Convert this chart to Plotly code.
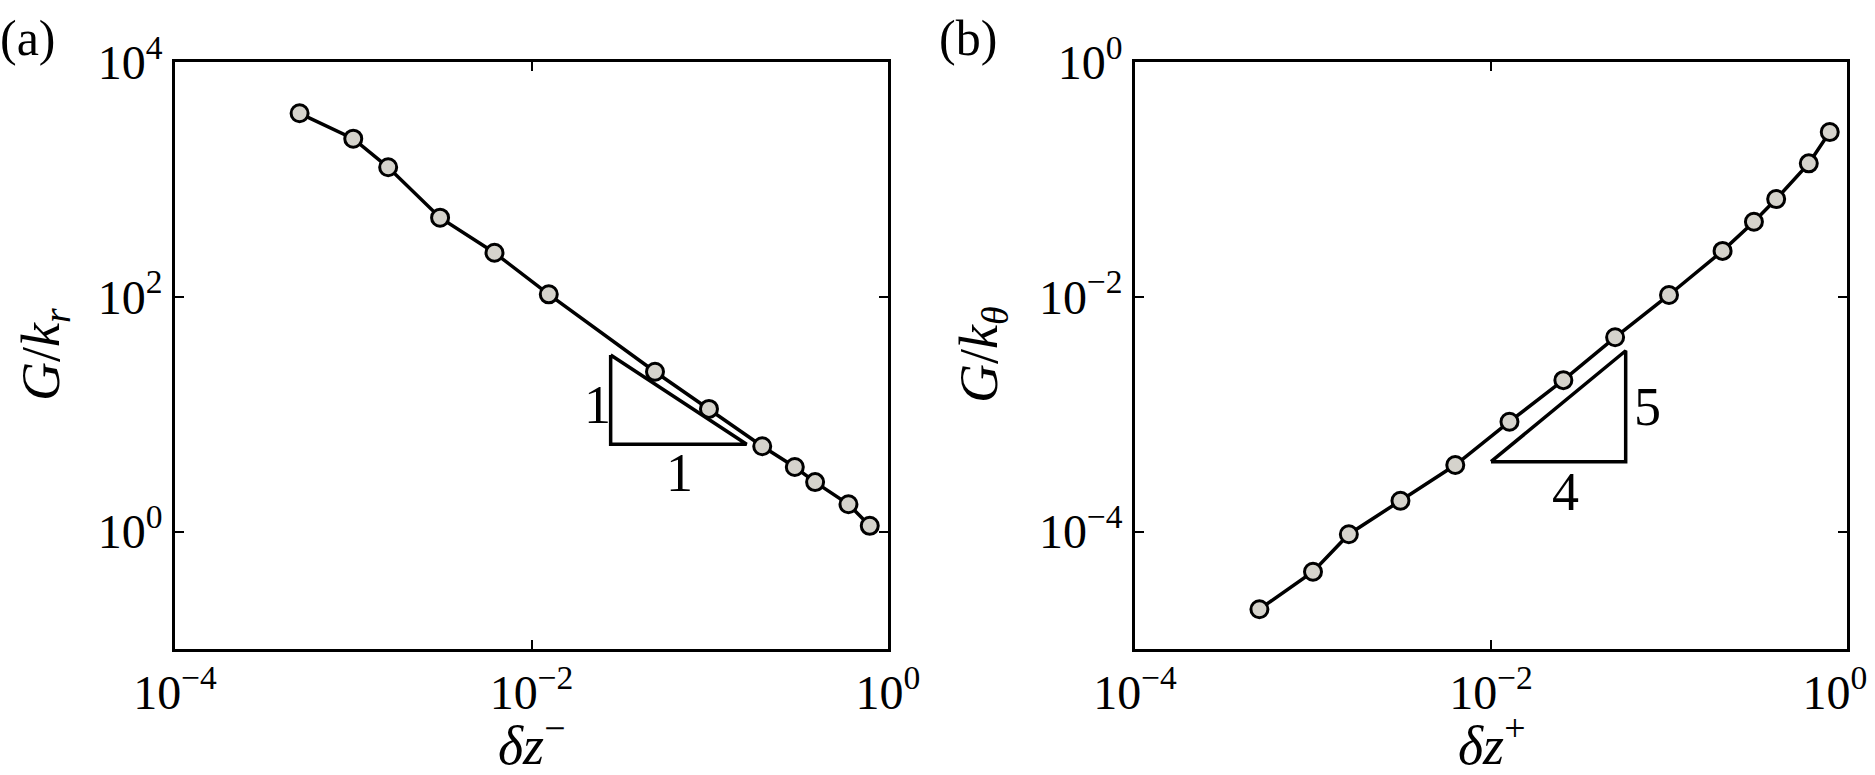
import plotly.graph_objects as go

# ---- data ----
dz_minus = [5e-4, 1e-3, 1.57e-3, 3.07e-3, 6.2e-3, 0.0125, 0.0493, 0.099, 0.197, 0.30, 0.39, 0.60, 0.79]
G_kr = [3656, 2222, 1268, 472, 237, 105, 23.0, 11.1, 5.33, 3.55, 2.64, 1.71, 1.12]

dz_plus = [5e-4, 1e-3, 1.59e-3, 3.1e-3, 6.3e-3, 0.0127, 0.0255, 0.0498, 0.1, 0.2, 0.30, 0.40, 0.61, 0.80]
G_kth = [2.18e-5, 4.55e-5, 9.5e-5, 1.83e-4, 3.69e-4, 8.63e-4, 1.95e-3, 4.52e-3, 0.01036, 0.0246,
         0.0436, 0.068, 0.137, 0.253]

# slope triangles (data coordinates)
tri_a_x = [0.0278, 0.0278, 0.161, 0.0278]
tri_a_y = [31.9, 5.54, 5.54, 31.9]
tri_b_x = [0.01, 0.0571, 0.0571, 0.01]
tri_b_y = [3.94e-4, 3.94e-4, 3.47e-3, 3.94e-4]

x_tickvals = [1e-4, 1e-2, 1]
x_ticktext = ["10<sup>−4</sup>", "10<sup>−2</sup>", "10<sup>0</sup>"]
# last label padded so it stays inside the page edge, as in the reference
x2_ticktext = ["10<sup>−4</sup>", "10<sup>−2</sup>", "10<sup>0</sup>\u00a0\u00a0"]
ya_tickvals = [1, 1e2, 1e4]
ya_ticktext = ["10<sup>0</sup>", "10<sup>2</sup>", "10<sup>4</sup>"]
yb_tickvals = [1e-4, 1e-2, 1]
yb_ticktext = ["10<sup>−4</sup>", "10<sup>−2</sup>", "10<sup>0</sup>"]

FONT = "Liberation Serif, Times New Roman, serif"
W, H = 1875, 775
MARK_FILL = "#d5d3cc"

fig = go.Figure()

marker = dict(size=17, color=MARK_FILL, line=dict(color="black", width=3))
fig.add_trace(go.Scatter(x=dz_minus, y=G_kr, mode="lines+markers", xaxis="x", yaxis="y",
                         line=dict(color="black", width=3.5), marker=marker, showlegend=False))
fig.add_trace(go.Scatter(x=tri_a_x, y=tri_a_y, mode="lines", xaxis="x", yaxis="y",
                         line=dict(color="black", width=3.5), showlegend=False))
fig.add_trace(go.Scatter(x=dz_plus, y=G_kth, mode="lines+markers", xaxis="x2", yaxis="y2",
                         line=dict(color="black", width=3.5), marker=marker, showlegend=False))
fig.add_trace(go.Scatter(x=tri_b_x, y=tri_b_y, mode="lines", xaxis="x2", yaxis="y2",
                         line=dict(color="black", width=3.5), showlegend=False))

axis_common = dict(type="log", showgrid=False, zeroline=False, showline=True, linecolor="black",
                   linewidth=2.5, mirror="ticks", ticks="inside", ticklen=9, tickwidth=2,
                   tickcolor="black", automargin=False, ticklabeloverflow="allow",
                   tickfont=dict(family=FONT, size=48, color="black"))

ydom = [1 - 649 / H, 1 - 62 / H]
fig.update_layout(
    template="none",
    width=W, height=H, margin=dict(l=0, r=0, t=0, b=0),
    paper_bgcolor="white", plot_bgcolor="white",
    font=dict(family=FONT, color="black"),
    xaxis=dict(domain=[175 / W, 888 / W], range=[-4, 0], tickvals=x_tickvals, ticktext=x_ticktext,
               anchor="y", **axis_common),
    yaxis=dict(domain=ydom, range=[-1, 4], tickvals=ya_tickvals, ticktext=ya_ticktext,
               anchor="x", **axis_common),
    xaxis2=dict(domain=[1135 / W, 1847 / W], range=[-4, 0], tickvals=x_tickvals, ticktext=x2_ticktext,
                anchor="y2", **axis_common),
    yaxis2=dict(domain=ydom, range=[-5, 0], tickvals=yb_tickvals, ticktext=yb_ticktext,
                anchor="x2", **axis_common),
)

tf = dict(family=FONT, size=54, color="black")
lf = dict(family=FONT, size=50, color="black")
ann = [
    # axis titles
    dict(text="<i>δz</i><sup>−</sup>", x=531 / W, y=1 - 741 / H, xref="paper", yref="paper",
         showarrow=False, font=tf, xanchor="center", yanchor="middle"),
    dict(text="<i>δz</i><sup>+</sup>", x=1491 / W, y=1 - 741 / H, xref="paper", yref="paper",
         showarrow=False, font=tf, xanchor="center", yanchor="middle"),
    dict(text="<i>G</i>/<i>k</i><sub><i>r</i></sub>", x=45 / W, y=1 - 355 / H, xref="paper", yref="paper",
         showarrow=False, font=tf, textangle=-90, xanchor="center", yanchor="middle"),
    dict(text="<i>G</i>/<i>k</i><sub><i>θ</i></sub>", x=983 / W, y=1 - 355 / H, xref="paper", yref="paper",
         showarrow=False, font=tf, textangle=-90, xanchor="center", yanchor="middle"),
    # panel labels
    dict(text="(a)", x=28 / W, y=1 - 38 / H, xref="paper", yref="paper", showarrow=False,
         font=lf, xanchor="center", yanchor="middle"),
    dict(text="(b)", x=968 / W, y=1 - 38 / H, xref="paper", yref="paper", showarrow=False,
         font=lf, xanchor="center", yanchor="middle"),
    # triangle labels
    dict(text="1", x=-1.63, y=1.08, xref="x", yref="y", showarrow=False, font=tf),
    dict(text="1", x=-1.17, y=0.50, xref="x", yref="y", showarrow=False, font=tf),
    dict(text="5", x=-1.12, y=-2.94, xref="x2", yref="y2", showarrow=False, font=tf),
    dict(text="4", x=-1.58, y=-3.66, xref="x2", yref="y2", showarrow=False, font=tf),
]
fig.update_layout(annotations=ann)

fig.write_html("out.html")
